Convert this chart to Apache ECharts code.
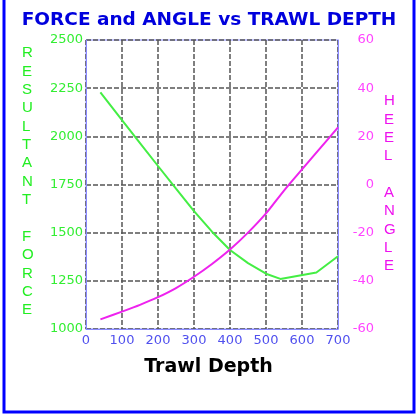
<!DOCTYPE html>
<html><head><meta charset="utf-8">
<script src="https://cdn.jsdelivr.net/npm/echarts@6/dist/echarts.min.js"></script>
<style>html,body{margin:0;padding:0;background:#fff}#c{width:418px;height:419px}</style>
</head><body><div id="c"></div>
<script>
const titleText = 'FORCE and ANGLE vs TRAWL DEPTH';
const xName = 'Trawl Depth';
const leftName = 'RESULTANT FORCE';
const rightName = 'HEEL ANGLE';
const forceDepth = [40, 100, 150, 200, 250, 300, 350, 400, 450, 500, 540, 640, 700];
const forceValues = [2228, 2084, 1965, 1846, 1728, 1612, 1505, 1410, 1342, 1287, 1260, 1293, 1378];
const angleDepth = [40, 100, 150, 200, 250, 300, 350, 400, 450, 500, 550, 600, 650, 700];
const angleValues = [-56, -52.8, -50, -46.8, -43, -38.3, -33, -27, -20, -12, -2.5, 6.3, 15, 23.7];

const chart = echarts.init(document.getElementById('c'), null, {renderer: 'canvas'});
const vert = s => s.split('').join('\n');
const plain = v => String(v);
chart.setOption({
  backgroundColor: '#ffffff',
  animation: false,
  title: {
    text: titleText, left: 'center', top: 6,
    textStyle: {color: '#0000dd', fontFamily: 'DejaVu Sans', fontWeight: 'bold', fontSize: 18.5}
  },
  grid: {left: 86, right: 80, top: 40, bottom: 90, show: true, borderColor: '#8a8aff', borderWidth: 1, backgroundColor: 'transparent'},
  xAxis: {
    type: 'value', min: 0, max: 700, interval: 100,
    axisLine: {show: true, onZero: false, lineStyle: {color: '#8a8aff', width: 1}},
    axisTick: {show: false},
    axisLabel: {color: '#5050ee', fontFamily: 'DejaVu Sans', fontSize: 13, margin: 5, formatter: plain},
    splitLine: {show: true, lineStyle: {color: '#555', type: [5, 2], width: 1.5}}
  },
  yAxis: [{
    type: 'value', min: 1000, max: 2500, interval: 250, position: 'left',
    axisLine: {show: true, onZero: false, lineStyle: {color: '#8a8aff'}},
    axisTick: {show: false},
    axisLabel: {color: '#33ee33', fontFamily: 'DejaVu Sans', fontSize: 13, margin: 3, formatter: plain},
    splitLine: {show: true, lineStyle: {color: '#555', type: [5, 2], width: 1.5}}
  }, {
    type: 'value', min: -60, max: 60, interval: 20, position: 'right',
    axisLine: {show: true, onZero: false, lineStyle: {color: '#8a8aff'}},
    axisTick: {show: false},
    axisLabel: {color: '#ff44ff', fontFamily: 'DejaVu Sans', fontSize: 13, margin: 36, align: 'right', formatter: plain},
    splitLine: {show: false}
  }],
  series: [{
    type: 'line', yAxisIndex: 0, showSymbol: false,
    data: forceDepth.map((d, i) => [d, forceValues[i]]),
    lineStyle: {color: '#44ee44', width: 2}
  }, {
    type: 'line', yAxisIndex: 1, showSymbol: false, smooth: 0.3,
    data: angleDepth.map((d, i) => [d, angleValues[i]]),
    lineStyle: {color: '#ee22ee', width: 2}
  }],
  graphic: [
    {type: 'rect', shape: {x: 4, y: -10, width: 410, height: 422}, style: {fill: 'none', stroke: '#0000ff', lineWidth: 3}, silent: true},
    {type: 'text', x: 208.5, y: 367, style: {text: xName, fill: '#000', font: 'bold 19px "DejaVu Sans"', align: 'center', verticalAlign: 'middle'}},
    {type: 'text', left: 22, top: 44, style: {text: vert(leftName), fill: '#22ee22', font: '15px "Liberation Sans"', lineHeight: 18.35, align: 'center'}},
    {type: 'text', left: 384, top: 92, style: {text: vert(rightName), fill: '#ee11ee', font: '15px "Liberation Sans"', lineHeight: 18.35, align: 'center'}}
  ]
});
</script></body></html>
